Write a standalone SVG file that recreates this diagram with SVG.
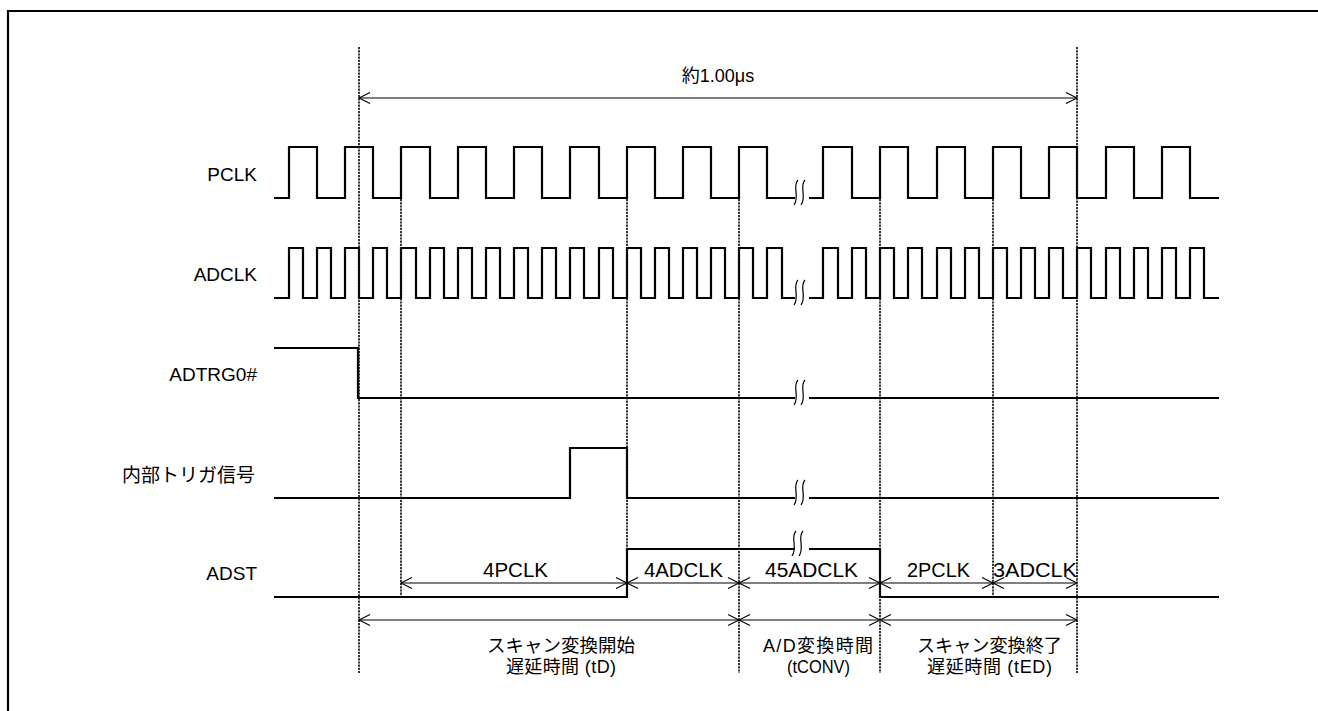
<svg xmlns="http://www.w3.org/2000/svg" width="1318" height="711" viewBox="0 0 1318 711">
<style>
.sig{fill:none;stroke:#000;stroke-width:2.2;stroke-linejoin:miter}
.dash{fill:none;stroke:#111;stroke-width:1.7;stroke-dasharray:2.2 1}
.arr{fill:none;stroke:#000;stroke-width:1.1;marker-start:url(#ah);marker-end:url(#ah)}
.brk{fill:none;stroke:#000;stroke-width:1.2}
.lbl{font-family:"Liberation Sans","Noto Sans CJK JP",sans-serif;font-size:19px;fill:#000}
.al{font-family:"Liberation Sans","Noto Sans CJK JP",sans-serif;font-size:20px;fill:#000;text-anchor:middle}
.bl{font-family:"Liberation Sans","Noto Sans CJK JP",sans-serif;font-size:18px;fill:#000;text-anchor:middle}
</style>
<defs>
<marker id="ah" viewBox="-12 -7 14 14" markerWidth="14" markerHeight="14" refX="0" refY="0" orient="auto-start-reverse" markerUnits="userSpaceOnUse">
<path d="M-11,-5.5 L0,0 L-11,5.5" fill="none" stroke="#000" stroke-width="1.1"/>
</marker>
<g id="brkmark">
<path class="brk" d="M2,-18 C-4,-12 4,-1 -2,7"/>
<path class="brk" d="M9,-18 C3,-12 11,-1 5,7"/>
</g>
</defs>
<rect width="1318" height="711" fill="#fff"/>
<path d="M8,711 V11 H1318" fill="none" stroke="#000" stroke-width="2.2"/>

<g id="labels">
<text class="lbl" x="257" y="181" text-anchor="end">PCLK</text>
<text class="lbl" x="257" y="281" text-anchor="end">ADCLK</text>
<text class="lbl" x="257" y="381" text-anchor="end">ADTRG0#</text>
<text class="lbl" x="255" y="482" text-anchor="end" textLength="133" lengthAdjust="spacing">内部トリガ信号</text>
<text class="lbl" x="257" y="580" text-anchor="end">ADST</text>
</g>

<g id="pclk">
<path class="sig" d="M274,198 H289 V147 H317 V198 H345 V147 H373 V198 H401 V147 H430 V198 H458 V147 H486 V198 H514 V147 H542 V198 H570 V147 H599 V198 H627 V147 H655 V198 H683 V147 H711 V198 H739 V147 H767 V198 H795"/>
<path class="sig" d="M809,198 H823 V147 H852 V198 H880 V147 H908 V198 H937 V147 H965 V198 H993 V147 H1021 V198 H1049 V147 H1077 V198 H1106 V147 H1134 V198 H1162 V147 H1190 V198 H1219"/>
<use href="#brkmark" x="796" y="198"/>
</g>

<g id="adclk">
<path class="sig" d="M274,298 H289 V248 H303 V298 H317 V248 H331 V298 H345 V248 H359 V298 H373 V248 H387 V298 H401 V248 H416 V298 H430 V248 H444 V298 H458 V248 H472 V298 H486 V248 H500 V298 H514 V248 H528 V298 H542 V248 H556 V298 H570 V248 H584 V298 H599 V248 H613 V298 H627 V248 H641 V298 H655 V248 H669 V298 H683 V248 H697 V298 H711 V248 H725 V298 H739 V248 H753 V298 H767 V248 H782 V298 H795"/>
<path class="sig" d="M809,298 H823 V248 H838 V298 H852 V248 H866 V298 H880 V248 H894 V298 H908 V248 H922 V298 H937 V248 H951 V298 H965 V248 H979 V298 H993 V248 H1007 V298 H1021 V248 H1035 V298 H1049 V248 H1063 V298 H1077 V248 H1091 V298 H1106 V248 H1120 V298 H1134 V248 H1148 V298 H1162 V248 H1176 V298 H1190 V248 H1204 V298 H1219"/>
<use href="#brkmark" x="796" y="298"/>
</g>

<g id="adtrg">
<path class="sig" d="M274,348 H358 V398 H795 M809,398 H1219"/>
<use href="#brkmark" x="796" y="398"/>
</g>

<g id="trig">
<path class="sig" d="M274,498 H570 V448 H627 V498 H795 M809,498 H1219"/>
<use href="#brkmark" x="796" y="498"/>
</g>

<g id="adst">
<path class="sig" d="M274,597 H627 V549 H795 M809,549 H880 V597 H1219"/>
<use href="#brkmark" x="794" y="549"/>
</g>

<g id="connectors">
<line class="dash" x1="359" y1="47" x2="359" y2="673"/>
<line class="dash" x1="401" y1="199" x2="401" y2="597"/>
<line class="dash" x1="627" y1="199" x2="627" y2="549"/>
<line class="dash" x1="739" y1="199" x2="739" y2="673"/>
<line class="dash" x1="880" y1="199" x2="880" y2="673"/>
<line class="dash" x1="993" y1="199" x2="993" y2="597"/>
<line class="dash" x1="1077" y1="47" x2="1077" y2="673"/>

<line class="arr" x1="359" y1="98" x2="1077" y2="98"/>
<line class="arr" x1="401" y1="583" x2="627" y2="583"/>
<line class="arr" x1="627" y1="583" x2="739" y2="583"/>
<line class="arr" x1="739" y1="583" x2="880" y2="583"/>
<line class="arr" x1="880" y1="583" x2="993" y2="583"/>
<line class="arr" x1="993" y1="583" x2="1077" y2="583"/>
<line class="arr" x1="359" y1="620" x2="739" y2="620"/>
<line class="arr" x1="739" y1="620" x2="880" y2="620"/>
<line class="arr" x1="880" y1="620" x2="1077" y2="620"/>
</g>

<g id="dim-labels">
<text class="bl" x="718" y="82" font-size="19">約1.00μs</text>
<text class="al" x="515.5" y="577" textLength="65" lengthAdjust="spacingAndGlyphs">4PCLK</text>
<text class="al" x="683.5" y="577" textLength="79" lengthAdjust="spacingAndGlyphs">4ADCLK</text>
<text class="al" x="811.5" y="577" textLength="93" lengthAdjust="spacingAndGlyphs">45ADCLK</text>
<text class="al" x="938.5" y="577" textLength="63" lengthAdjust="spacingAndGlyphs">2PCLK</text>
<text class="al" x="1035" y="577" textLength="84" lengthAdjust="spacingAndGlyphs">3ADCLK</text>
<text class="bl" x="561" y="652" textLength="148" lengthAdjust="spacingAndGlyphs">スキャン変換開始</text>
<text class="bl" x="561" y="673" textLength="110" lengthAdjust="spacing">遅延時間 (tD)</text>
<text class="bl" x="818" y="652" textLength="110" lengthAdjust="spacing">A/D変換時間</text>
<text class="bl" x="818.5" y="673" textLength="63" lengthAdjust="spacingAndGlyphs">(tCONV)</text>
<text class="bl" x="989.5" y="652" textLength="145" lengthAdjust="spacingAndGlyphs">スキャン変換終了</text>
<text class="bl" x="989.5" y="673" textLength="125" lengthAdjust="spacing">遅延時間 (tED)</text>
</g>
</svg>
